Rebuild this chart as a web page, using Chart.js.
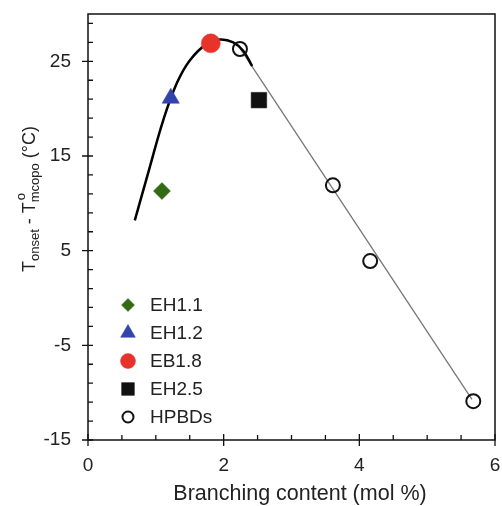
<!DOCTYPE html>
<html>
<head>
<meta charset="utf-8">
<script src="https://cdn.jsdelivr.net/npm/chart.js@4.4.1/dist/chart.umd.min.js"></script>
<style>
  html, body { margin: 0; padding: 0; background: #fff; }
</style>
</head>
<body>
<canvas id="chart" width="502" height="506"></canvas>
<script>
// Valeurs
const xTicks = [0, 2, 4, 6];
const yTicks = [-15, -5, 5, 15, 25];
const xMinorStep = 0.5;
const yMinorStep = 2;

const eh11X = [1.09], eh11Y = [11.3];
const eh12X = [1.22], eh12Y = [21.1];
const eb18X = [1.81], eb18Y = [26.9];
const eh25X = [2.52], eh25Y = [20.9];
const hpbdX = [2.24, 3.61, 4.16, 5.68];
const hpbdY = [26.3, 11.9, 3.9, -10.9];

// courbe épaisse (guide) et droite fine
const curveX = [0.69, 0.91, 1.11, 1.31, 1.50, 1.76, 1.95, 2.14, 2.29, 2.42];
const curveY = [8.2, 13.8, 18.8, 22.7, 25.1, 26.9, 27.3, 27.0, 26.1, 24.5];
const fitX = [2.24, 5.66];
const fitY = [26.4, -10.7];

const FONT = '"Liberation Sans", Arial, sans-serif';

function pts(xs, ys) {
    return xs.map((x, i) => ({ x: x, y: ys[i] }));
}

const markers = [
    { label: 'EH1.1', data: pts(eh11X, eh11Y), pointStyle: 'rectRot', radius: 8.5, legendRadius: 6.5, color: '#336a14', border: '#336a14' },
    { label: 'EH1.2', data: pts(eh12X, eh12Y), pointStyle: 'triangle', radius: 10, legendRadius: 8.5, color: '#3343ad', border: '#3343ad' },
    { label: 'EB1.8', data: pts(eb18X, eb18Y), pointStyle: 'circle', radius: 9.5, legendRadius: 7.5, color: '#e8332b', border: '#e8332b' },
    { label: 'EH2.5', data: pts(eh25X, eh25Y), pointStyle: 'rect', radius: 11, legendRadius: 9, color: '#111', border: '#111' },
    { label: 'HPBDs', data: pts(hpbdX, hpbdY), pointStyle: 'circle', radius: 7, legendRadius: 5.5, color: 'rgba(0,0,0,0)', border: '#111', bw: 2 }
];

const datasets = markers.map(m => ({
    label: m.label,
    data: m.data,
    pointStyle: m.pointStyle,
    pointRadius: m.radius,
    pointBackgroundColor: m.color,
    pointBorderColor: m.border,
    pointBorderWidth: m.bw || 0.5,
    showLine: false,
    order: 1
}));

datasets.push({
    label: 'curve',
    data: pts(curveX, curveY),
    showLine: true,
    borderColor: '#000',
    borderWidth: 2.5,
    tension: 0.4,
    pointRadius: 0,
    order: 2
});
datasets.push({
    label: 'fit',
    data: pts(fitX, fitY),
    showLine: true,
    borderColor: '#777',
    borderWidth: 1.3,
    pointRadius: 0,
    order: 2
});

function noPad(s) {
    s.paddingTop = 0; s.paddingBottom = 0; s.paddingLeft = 0; s.paddingRight = 0;
}

// cadre, graduations, titres et légende
const decor = {
    id: 'decor',
    afterDraw(chart) {
        const ctx = chart.ctx;
        const a = chart.chartArea;
        const xs = chart.scales.x, ys = chart.scales.y;
        ctx.save();
        ctx.strokeStyle = '#111';
        ctx.lineWidth = 1.5;
        ctx.strokeRect(a.left, a.top, a.right - a.left, a.bottom - a.top);

        ctx.lineWidth = 1.3;
        ctx.beginPath();
        for (let v = xs.min; v <= xs.max + 1e-9; v += xMinorStep) {
            const px = xs.getPixelForValue(v);
            if (xTicks.includes(Math.round(v * 10) / 10)) {
                ctx.moveTo(px, a.bottom - 6); ctx.lineTo(px, a.bottom + 6);
            } else {
                ctx.moveTo(px, a.bottom - 5); ctx.lineTo(px, a.bottom);
            }
        }
        for (let v = ys.min; v <= ys.max - 1 + 1e-9; v += yMinorStep) {
            const py = ys.getPixelForValue(v);
            if (yTicks.includes(v)) {
                ctx.moveTo(a.left - 6, py); ctx.lineTo(a.left + 5, py);
            } else {
                ctx.moveTo(a.left, py); ctx.lineTo(a.left + 5, py);
            }
        }
        ctx.stroke();

        // titre x
        ctx.fillStyle = '#222';
        ctx.font = '21.5px ' + FONT;
        ctx.textAlign = 'center';
        ctx.textBaseline = 'alphabetic';
        ctx.fillText('Branching content (mol %)', 300, 500);

        // titre de l'axe y avec indices
        const big = '18px ' + FONT, small = '13px ' + FONT;
        const parts = [
            { t: 'T', f: big, dy: 0 },
            { t: 'onset', f: small, dy: 5 },
            { t: ' - T', f: big, dy: 0 },
            { t: 'm', f: small, dy: 5, sup: 'o' },
            { t: 'copo', f: small, dy: 5 },
            { t: ' (\u00b0C)', f: big, dy: 0 }
        ];
        let total = 0;
        parts.forEach(p => { ctx.font = p.f; p.w = ctx.measureText(p.t).width; total += p.w; });
        ctx.translate(30, 199);
        ctx.rotate(-Math.PI / 2);
        ctx.textBaseline = 'middle';
        ctx.textAlign = 'left';
        let cx = -total / 2;
        parts.forEach(p => {
            ctx.font = p.f;
            ctx.fillText(p.t, cx, p.dy);
            if (p.sup) ctx.fillText(p.sup, cx + 2, -9);
            cx += p.w;
        });
        ctx.restore();

        // légende
        ctx.save();
        ctx.font = '19px ' + FONT;
        ctx.textBaseline = 'middle';
        markers.forEach((m, i) => {
            const y = 305 + i * 28;
            ctx.fillStyle = m.color;
            ctx.strokeStyle = m.border;
            ctx.lineWidth = m.bw || 0.5;
            if (Chart.helpers && Chart.helpers.drawPoint) {
                Chart.helpers.drawPoint(ctx, { pointStyle: m.pointStyle, radius: m.legendRadius, rotation: 0, borderWidth: m.bw || 0.5 }, 128, y);
            }
            ctx.fillStyle = '#222';
            ctx.fillText(m.label, 150, y + 1);
        });
        ctx.restore();
    }
};

new Chart(document.getElementById('chart'), {
    type: 'scatter',
    data: { datasets: datasets },
    options: {
        responsive: false,
        animation: false,
        layout: { autoPadding: false, padding: { top: 14, right: 7, left: 0, bottom: 0 } },
        plugins: { legend: { display: false }, tooltip: { enabled: false } },
        scales: {
            x: {
                type: 'linear', min: 0, max: 6,
                afterBuildTicks: s => { s.ticks = xTicks.map(v => ({ value: v })); },
                afterFit: s => { s.height = 66; noPad(s); },
                grid: { display: false },
                border: { display: false },
                ticks: { font: { family: FONT, size: 19 }, color: '#222', padding: 6, maxRotation: 0 }
            },
            y: {
                type: 'linear', min: -15, max: 30,
                afterBuildTicks: s => { s.ticks = yTicks.map(v => ({ value: v })); },
                afterFit: s => { s.width = 88; noPad(s); },
                grid: { display: false },
                border: { display: false },
                ticks: { font: { family: FONT, size: 19 }, color: '#222', padding: 9 }
            }
        }
    },
    plugins: [decor]
});
</script>
</body>
</html>
